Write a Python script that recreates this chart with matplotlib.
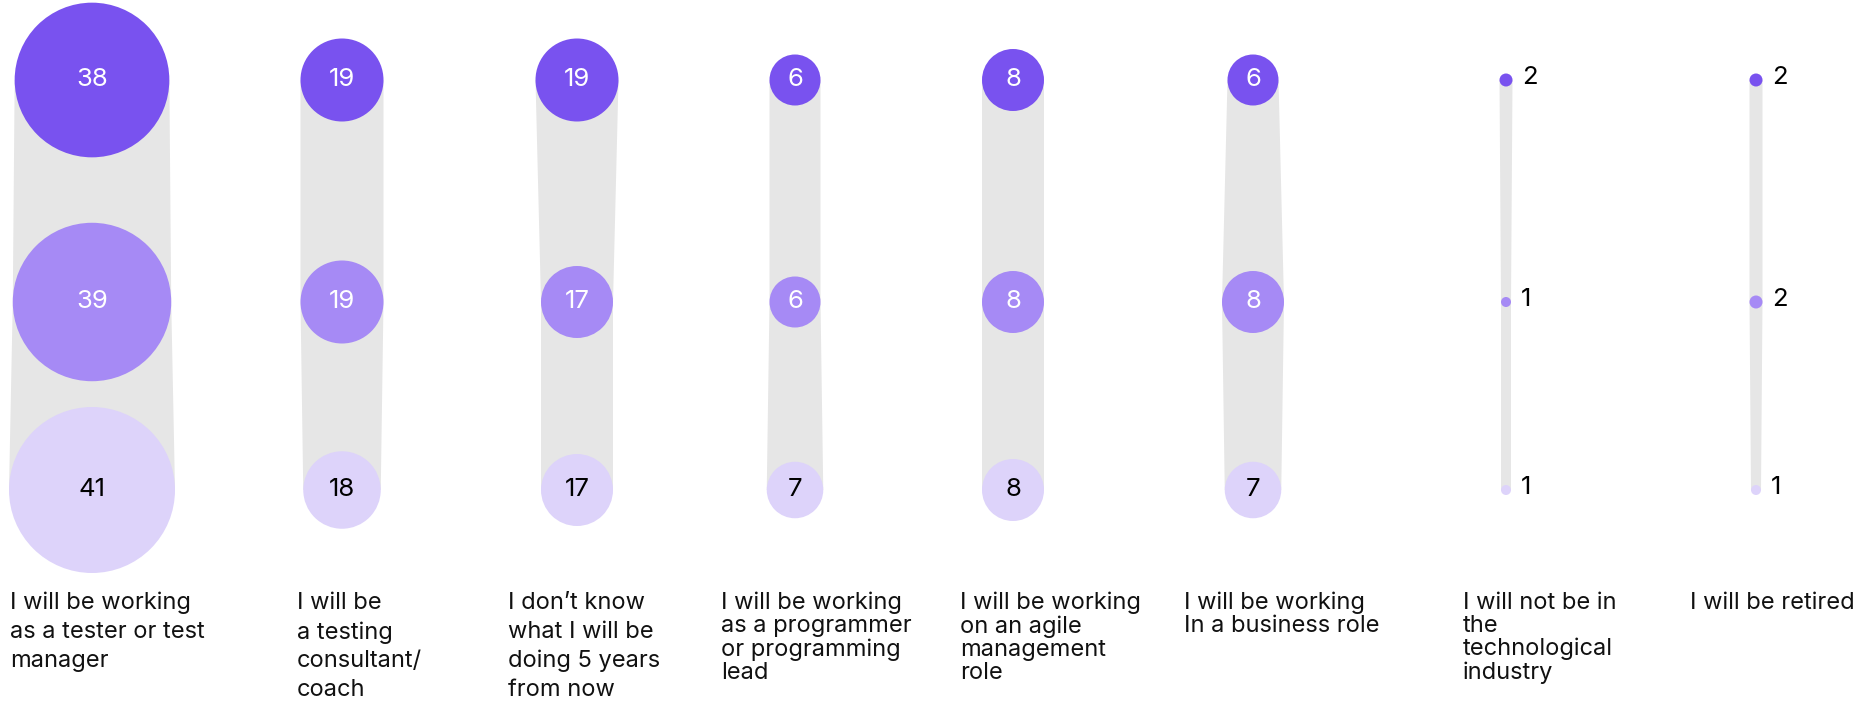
import numpy as np
import matplotlib
matplotlib.use("Agg")
import matplotlib.pyplot as plt
from matplotlib.patches import Circle, Polygon

# answers, one column per category
categories = [
    "I will be working\nas a tester or test\nmanager",
    "I will be\na testing\nconsultant/\ncoach",
    "I don\u2019t know\nwhat I will be\ndoing 5 years\nfrom now",
    "I will be working\nas a programmer\nor programming\nlead",
    "I will be working\non an agile\nmanagement\nrole",
    "I will be working\nIn a business role",
    "I will not be in\nthe\ntechnological\nindustry",
    "I will be retired",
]
top_vals = [38, 19, 19, 6, 8, 6, 2, 2]
mid_vals = [39, 19, 17, 6, 8, 8, 1, 2]
bot_vals = [41, 18, 17, 7, 8, 7, 1, 1]

# layout (pixels)
W, H = 1876, 713
col_x = [92, 342, 577, 795, 1013, 1253, 1506, 1756]
label_x = [10, 297, 508, 721, 960, 1184, 1463, 1690]
label_spacing = [1.4, 1.4, 1.4, 1.05, 1.05, 1.05, 1.05, 1.05]
row_y = [80, 302, 490]
row_colors = ["#7952EF", "#A68AF5", "#DDD3FA"]
text_colors = ["white", "white", "black"]
band_color = "#E6E6E6"

# value -> circle diameter (px)
size_domain = [1, 2, 6, 8, 17, 19, 41]
size_range = [10, 13, 51, 62, 72, 83, 166]

def diameter(v):
    return np.interp(v, size_domain, size_range)

plt.rcParams['font.family'] = ['Inter', 'DejaVu Sans']

fig = plt.figure(figsize=(W / 100, H / 100), dpi=100)
ax = fig.add_axes([0, 0, 1, 1])
ax.set_xlim(0, W)
ax.set_ylim(H, 0)
ax.axis('off')

for i, cx in enumerate(col_x):
    vals = [top_vals[i], mid_vals[i], bot_vals[i]]
    radii = [diameter(v) / 2 for v in vals]

    # gray band joining the three circles
    left = [(cx - r, y) for r, y in zip(radii, row_y)]
    right = [(cx + r, y) for r, y in zip(radii, row_y)]
    ax.add_patch(Polygon(left + right[::-1], closed=True, facecolor=band_color,
                         edgecolor='none', zorder=1))

    for j in range(3):
        r = radii[j]
        ax.add_patch(Circle((cx, row_y[j]), r, facecolor=row_colors[j],
                            edgecolor='none', zorder=2))
        if r * 2 > 30:
            ax.text(cx, row_y[j], str(vals[j]), ha='center', va='center',
                    fontsize=18.5, color=text_colors[j], zorder=3)
        else:
            ax.text(cx + r + 10, row_y[j] - 2, str(vals[j]), ha='left', va='center',
                    fontsize=18.5, color='black', zorder=3)

    ax.text(label_x[i], 592, categories[i], ha='left', va='top', fontsize=17,
            color='#111111', linespacing=label_spacing[i])

fig.savefig("out.png", dpi=100, facecolor='white')
